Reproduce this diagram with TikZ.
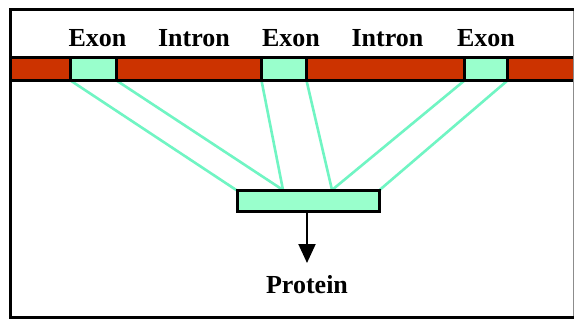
\documentclass[tikz,border=0pt]{standalone}
\usepackage{fontspec}
\setmainfont{Liberation Serif}
\usetikzlibrary{arrows.meta}
\definecolor{intronred}{RGB}{204,51,0}
\definecolor{exongreen}{RGB}{153,255,204}
\definecolor{linkgreen}{RGB}{112,245,195}
\begin{document}
\begin{tikzpicture}[x=1pt,y=-1pt,
  exonbox/.style={draw=black,line width=3pt,fill=exongreen,inner sep=0pt,outer sep=0pt,
    minimum height=23pt},
  label/.style={font=\bfseries\fontsize{26}{28}\selectfont,anchor=base,inner sep=0pt},
  link/.style={draw=linkgreen,line width=2.6pt},
  protbox/.style={draw=black,line width=3pt,fill=exongreen,inner sep=0pt,outer sep=0pt,
    minimum width=142pt,minimum height=21pt}]
\useasboundingbox (0,0) rectangle (577,321);
% outer frame
\fill[white] (0,0) rectangle (577,321);
\draw[black!45,line width=1pt] (573.5,9.5) -- (573.5,317.5);
\draw[black,line width=3pt] (573.5,9.5) -- (10.5,9.5) -- (10.5,317.5) -- (573.5,317.5);

% exons and the protein they join into
\node[exonbox,minimum width=46pt] (e1) at (93.5,69) {};
\node[exonbox,minimum width=45pt] (e2) at (284,69) {};
\node[exonbox,minimum width=43pt] (e3) at (486,69) {};
\node[protbox] (p) at (308,201) {};
\coordinate (j1) at (283,190);
\coordinate (j2) at (332,190);

% splicing links
\draw[link] (e1.south west) -- (p.north west);
\draw[link] (e1.south east) -- (j1);
\draw[link] (e2.south west) -- (j1);
\draw[link] (e2.south east) -- (j2);
\draw[link] (e3.south west) -- (j2);
\draw[link] (e3.south east) -- (p.north east);

% pre-mRNA strand
\fill[intronred] (12,57.5) rectangle (573,80.5);
\draw[black,line width=3pt] (12,57.5) -- (573,57.5) (12,80.5) -- (573,80.5);
\node[exonbox,minimum width=46pt] at (e1) {};
\node[exonbox,minimum width=45pt] at (e2) {};
\node[exonbox,minimum width=43pt] at (e3) {};
\node[protbox] at (p) {};

% labels
\node[label] (l1) at (97.5,47) {Exon};
\node[label] (l2) at (194,47) {Intron};
\node[label] (l3) at (291,47) {Exon};
\node[label] (l4) at (387.5,47) {Intron};
\node[label] (l5) at (486,47) {Exon};
\node[label] (prot) at (307,293) {Protein};
\coordinate (tip) at (307,263);
\draw[black,line width=2pt,-{Triangle[width=17pt,length=19pt]}] (p.south -| tip) -- (tip);
\end{tikzpicture}
\end{document}
